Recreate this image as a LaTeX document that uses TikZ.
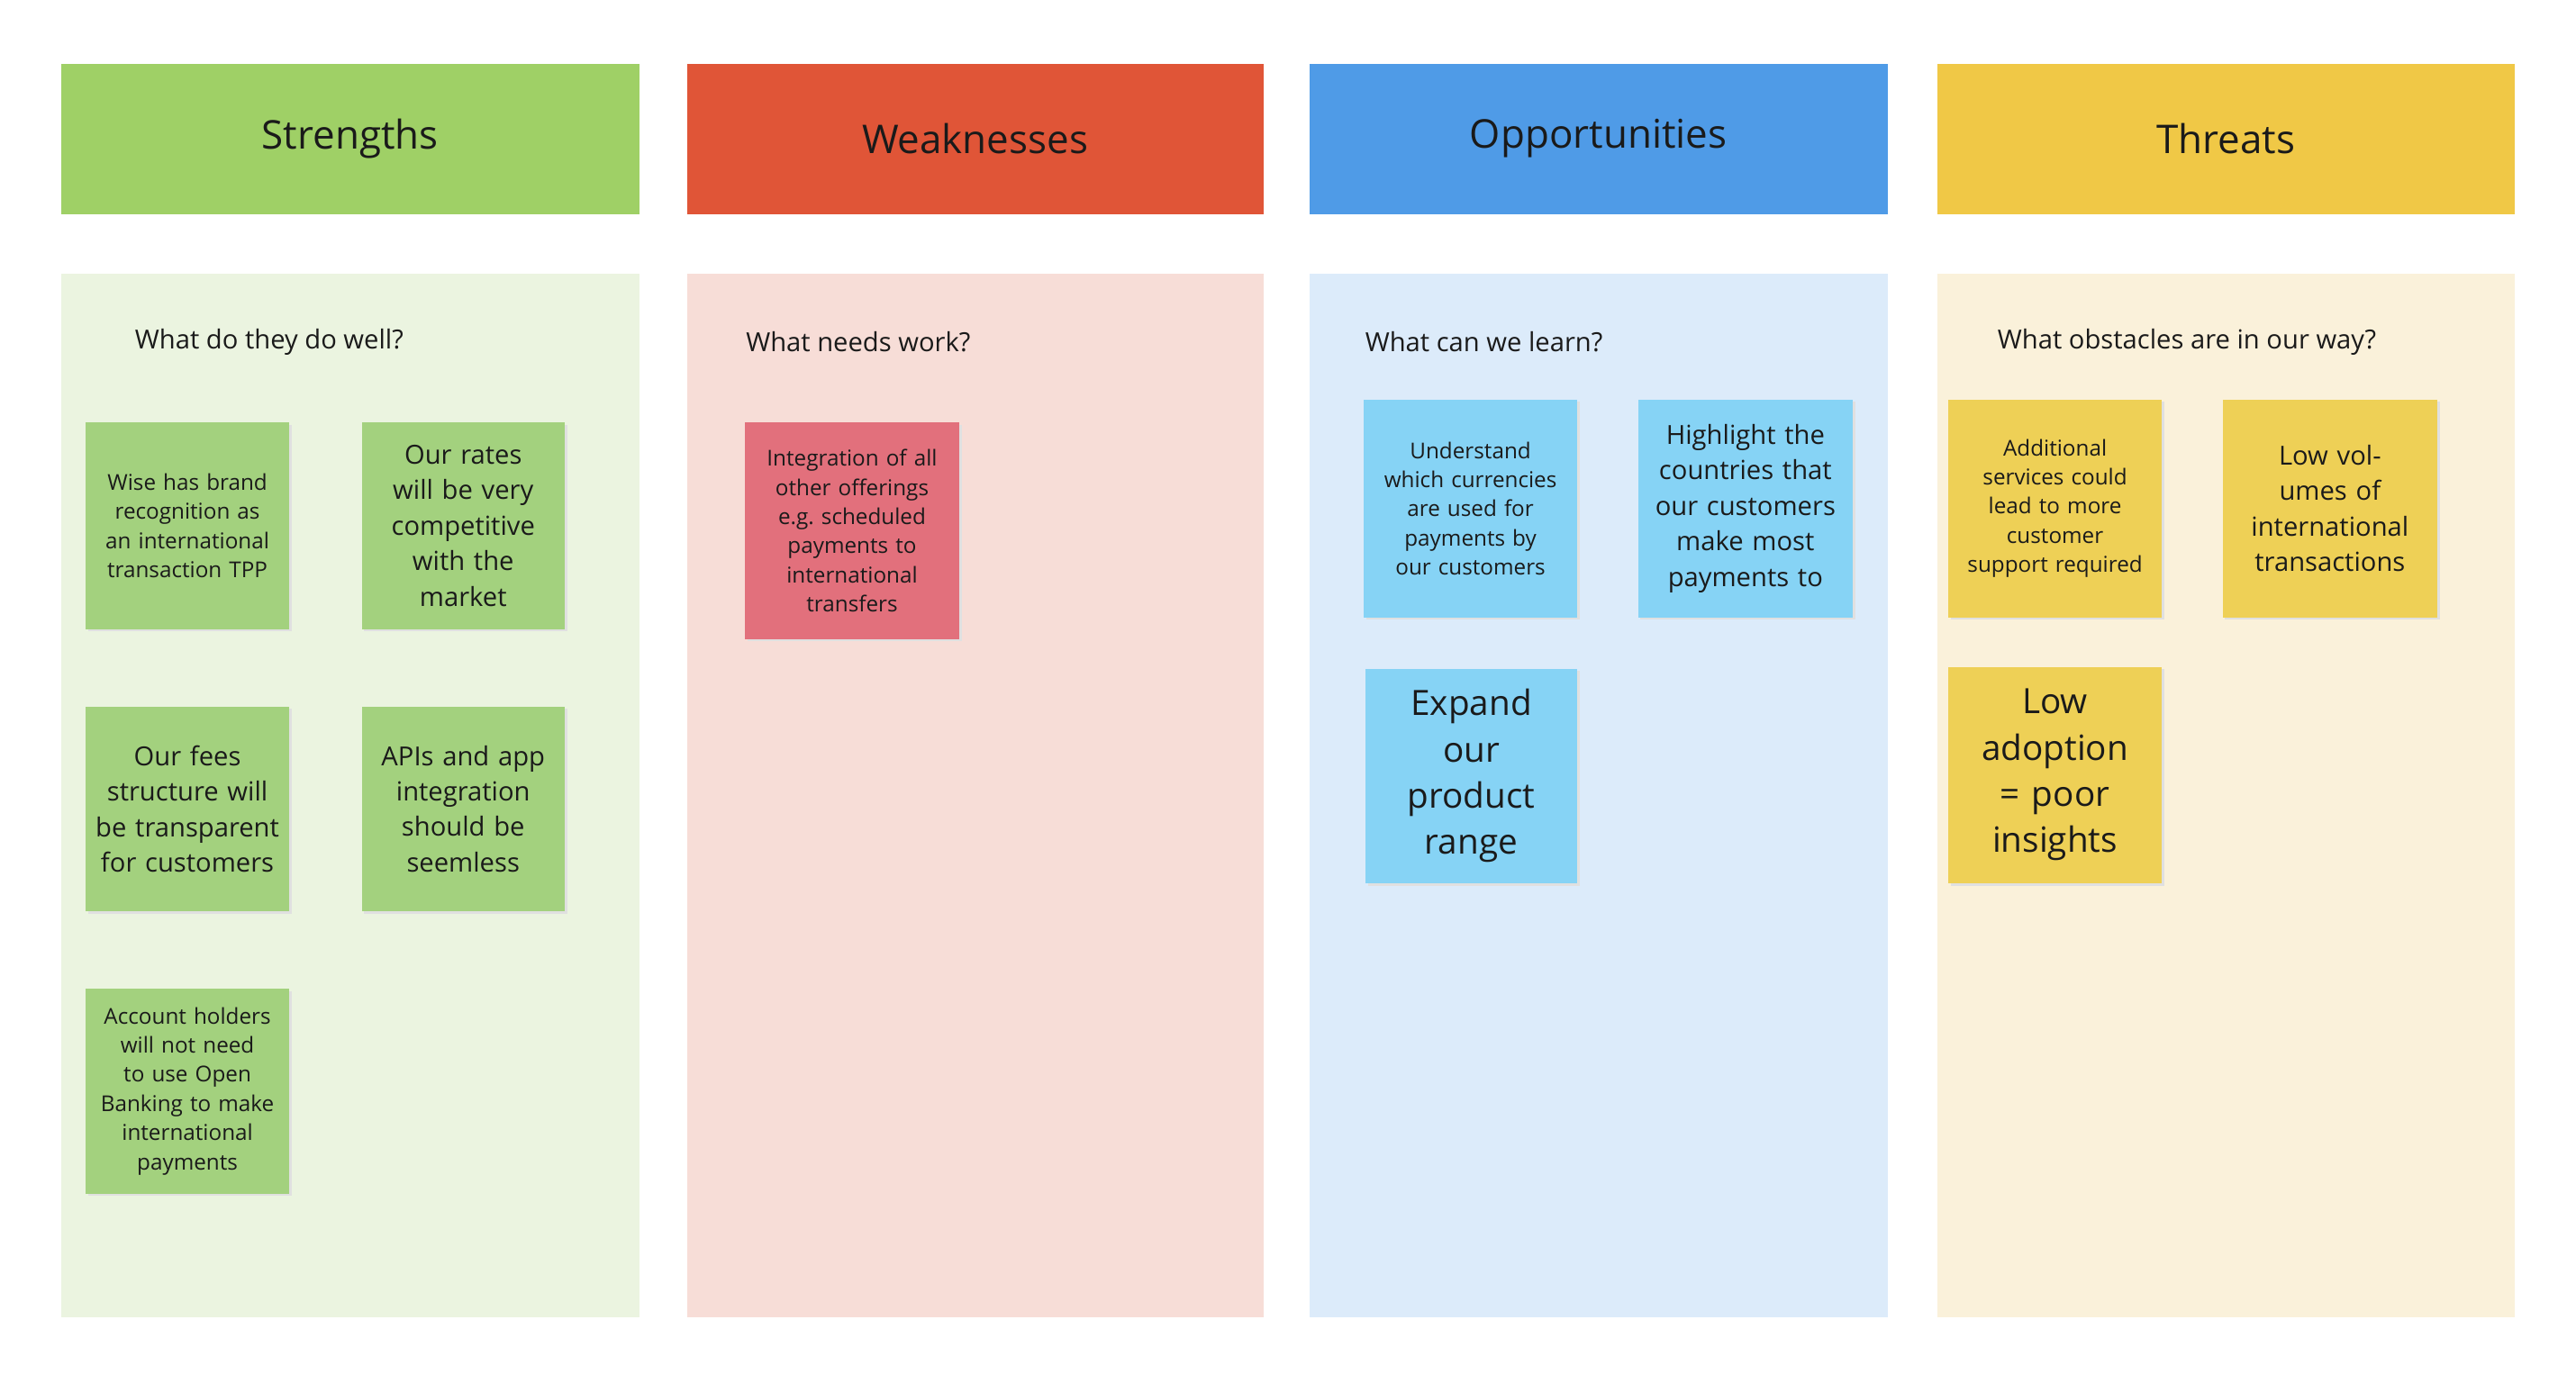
\documentclass[tikz,border=0pt]{standalone}
\usepackage{fontspec}
\setmainfont{Open Sans}
\definecolor{sH}{HTML}{9FD066}\definecolor{sB}{HTML}{EBF4E0}\definecolor{sN}{HTML}{A3D17E}
\definecolor{wH}{HTML}{E05537}\definecolor{wB}{HTML}{F7DDD7}\definecolor{wN}{HTML}{E2707C}
\definecolor{oH}{HTML}{4F9BE7}\definecolor{oB}{HTML}{DCEBFA}\definecolor{oN}{HTML}{86D3F5}
\definecolor{tH}{HTML}{F0C846}\definecolor{tB}{HTML}{FAF1DA}\definecolor{tN}{HTML}{EED056}
\definecolor{ink}{HTML}{1A1A1A}
\begin{document}
\begin{tikzpicture}[x=0.01833cm,y=-0.01833cm,
  hdr/.style={font=\fontsize{12.5}{15}\selectfont,text=ink},
  q/.style={anchor=west,font=\fontsize{8.3}{10}\selectfont,text=ink},
  st/.style={align=center,text width=58pt,text=ink},
  sm/.style={st,font=\fontsize{6.9}{9.2}\selectfont},
  md/.style={st,font=\fontsize{8.3}{11.2}\selectfont},
  lg/.style={st,font=\fontsize{11}{14.6}\selectfont}]
\useasboundingbox (0,0) rectangle (1560,832);
\newcommand\col[6]{%
  \fill[#3] (#1,39) rectangle (#2,130);
  \node[hdr] (h#5) at ({(#1+#2)/2},84) {#6};
  \fill[#4] (#1,166) rectangle (#2,798);}
\col{37}{387}{sH}{sB}{S}{Strengths}
\col{416}{765}{wH}{wB}{W}{Weaknesses}
\col{793}{1143}{oH}{oB}{O}{Opportunities}
\col{1173}{1523}{tH}{tB}{T}{Threats}
\node[q] (qS) at (75,207) {What do they do well?};
\node[q] (qW) at (445,207) {What needs work?};
\node[q] (qO) at (820,207) {What can we learn?};
\node[q] (qT) at (1203,207) {What obstacles are in our way?};
\newcommand\note[7]{%
  \fill[black!12] (#2+1.5,#4+1.5) rectangle (#3+1.5,#5+1.5);
  \fill[#6] (#2,#4) rectangle (#3,#5);
  \node[#7] (#1) at ({(#2+#3)/2},{(#4+#5)/2})}
\note{s1}{52}{175}{256}{381}{sN}{sm} {Wise has brand recognition as an international transaction TPP};
\note{s2}{219}{342}{256}{381}{sN}{md} {Our rates will be very competitive with the market};
\note{s3}{52}{175}{428}{552}{sN}{md} {Our fees structure will be transparent for customers};
\note{s4}{219}{342}{428}{552}{sN}{md} {APIs and app integration should be seemless};
\note{s5}{52}{175}{599}{723}{sN}{sm} {Account holders will not need to use Open Banking to make international payments};
\note{w1}{451}{581}{256}{387}{wN}{sm} {Integration of all other offerings e.g.\ scheduled payments to international transfers};
\note{o1}{826}{955}{242}{374}{oN}{sm} {Understand which currencies are used for payments by our customers};
\note{o2}{992}{1122}{242}{374}{oN}{md} {Highlight the countries that our customers make most payments to};
\note{o3}{827}{955}{405}{535}{oN}{lg} {Expand our product range};
\note{t1}{1180}{1309}{242}{374}{tN}{sm} {Additional services could lead to more customer support required};
\note{t2}{1346}{1476}{242}{374}{tN}{md} {Low volumes of international transactions};
\note{t3}{1180}{1309}{404}{535}{tN}{lg} {Low adoption = poor insights};
\end{tikzpicture}
\end{document}
